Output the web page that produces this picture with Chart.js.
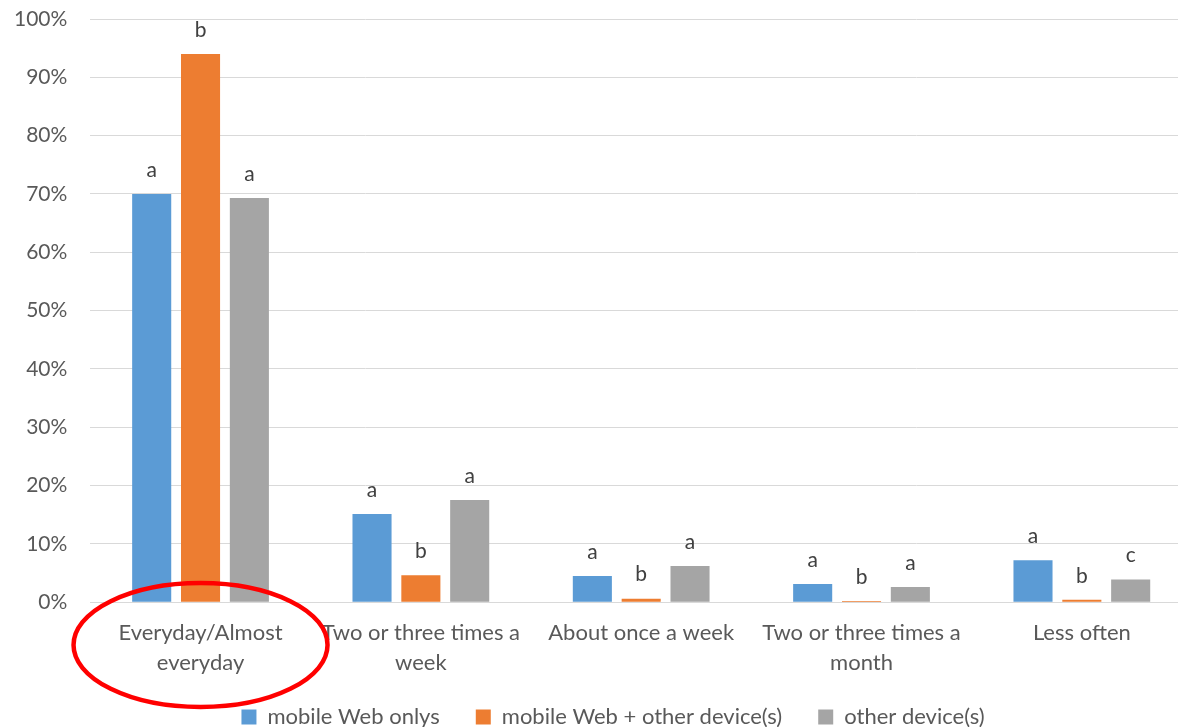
<!DOCTYPE html>
<html>
<head>
<meta charset="utf-8">
<script src="https://cdn.jsdelivr.net/npm/chart.js@4.4.0/dist/chart.umd.min.js"></script>
<style>
  html, body { margin: 0; padding: 0; background: #ffffff; overflow: hidden; }
  #wrap { width: 1178px; height: 727px; overflow: hidden; position: relative; }
  canvas { display: block; }
</style>
</head>
<body>
<div id="wrap"><canvas id="chart" width="1226" height="727"></canvas></div>
<script>
// Frequency of use by device group (share of respondents)
const categories = [
  ["Everyday/Almost", "everyday"],
  ["Two or three times a", "week"],
  "About once a week",
  ["Two or three times a", "month"],
  "Less often"
];
const seriesNames = ["mobile Web onlys", "mobile Web + other device(s)", "other device(s)"];
const mobileOnly   = [70.0, 15.1, 4.5, 3.1, 7.2];
const mobilePlus   = [94.0, 4.6, 0.6, 0.2, 0.4];
const otherDevices = [69.3, 17.5, 6.2, 2.6, 3.9];
// significance letters shown above each bar
const lettersMobileOnly   = ["a", "a", "a", "a", "a"];
const lettersMobilePlus   = ["b", "b", "b", "b", "b"];
const lettersOtherDevices = ["a", "a", "a", "a", "c"];
const yTicks = [0, 10, 20, 30, 40, 50, 60, 70, 80, 90, 100];

const FONT = "Lato, 'Noto Sans', sans-serif";
const colors = ["#5B9BD5", "#ED7D31", "#A5A5A5"];
const letterSets = [lettersMobileOnly, lettersMobilePlus, lettersOtherDevices];
const LEGEND_GAP = 36;

const letterPlugin = {
  id: "barLetters",
  afterDatasetsDraw(chart) {
    const ctx = chart.ctx;
    ctx.save();
    ctx.font = "21px " + FONT;
    ctx.fillStyle = "#404040";
    ctx.textAlign = "center";
    ctx.textBaseline = "middle";
    chart.data.datasets.forEach((ds, i) => {
      const meta = chart.getDatasetMeta(i);
      meta.data.forEach((bar, j) => {
        ctx.fillText(letterSets[i][j], bar.x, bar.y - 24);
      });
    });
    ctx.restore();
  }
};

const ellipsePlugin = {
  id: "highlightEllipse",
  afterDraw(chart) {
    const ctx = chart.ctx;
    const cx = chart.scales.x.getPixelForValue(0);
    ctx.save();
    ctx.strokeStyle = "#FF0000";
    ctx.lineWidth = 4.5;
    ctx.beginPath();
    ctx.ellipse(cx, 645, 127, 62, 0, 0, Math.PI * 2);
    ctx.stroke();
    ctx.restore();
  }
};

// nudge the legend row: centre it under the frame and pull it up
// by the extra label padding used to space the items apart
const legendShift = {
  id: "legendShift",
  afterLayout(chart) {
    const lg = chart.legend;
    if (lg) {
      lg.left += 10; lg.right += 10;
      lg.top -= (LEGEND_GAP - 12); lg.bottom -= (LEGEND_GAP - 12);
    }
  }
};

new Chart(document.getElementById("chart"), {
  type: "bar",
  data: {
    labels: categories,
    datasets: [
      { label: seriesNames[0], data: mobileOnly,   backgroundColor: colors[0] },
      { label: seriesNames[1], data: mobilePlus,   backgroundColor: colors[1] },
      { label: seriesNames[2], data: otherDevices, backgroundColor: colors[2] }
    ]
  },
  options: {
    responsive: false,
    animation: false,
    layout: { padding: { left: 14, right: 34, top: 19, bottom: -9 - (LEGEND_GAP - 10) } },
    datasets: { bar: { categoryPercentage: 0.665, barPercentage: 0.8 } },
    scales: {
      x: {
        grid: { display: false, drawTicks: false },
        border: { display: true, color: "#D9D9D9", width: 1 },
        ticks: {
          color: "#595959",
          font: { family: FONT, size: 22, lineHeight: 1.36 },
          padding: 16,
          maxRotation: 0, autoSkip: false
        }
      },
      y: {
        min: 0, max: 100,
        afterBuildTicks(axis) { axis.ticks = yTicks.map(v => ({ value: v })); },
        grid: { color: "#D9D9D9", lineWidth: 1, drawTicks: true, tickLength: 23, tickColor: "rgba(0,0,0,0)" },
        border: { display: false },
        ticks: {
          color: "#595959",
          font: { family: FONT, size: 21 },
          padding: 0,
          callback: v => v + "%"
        }
      }
    },
    plugins: {
      legend: {
        position: "bottom",
        labels: {
          color: "#595959",
          font: { family: FONT, size: 22 },
          boxWidth: 15, boxHeight: 15,
          padding: LEGEND_GAP
        }
      },
      tooltip: { enabled: false }
    }
  },
  plugins: [letterPlugin, ellipsePlugin, legendShift]
});
</script>
</body>
</html>
